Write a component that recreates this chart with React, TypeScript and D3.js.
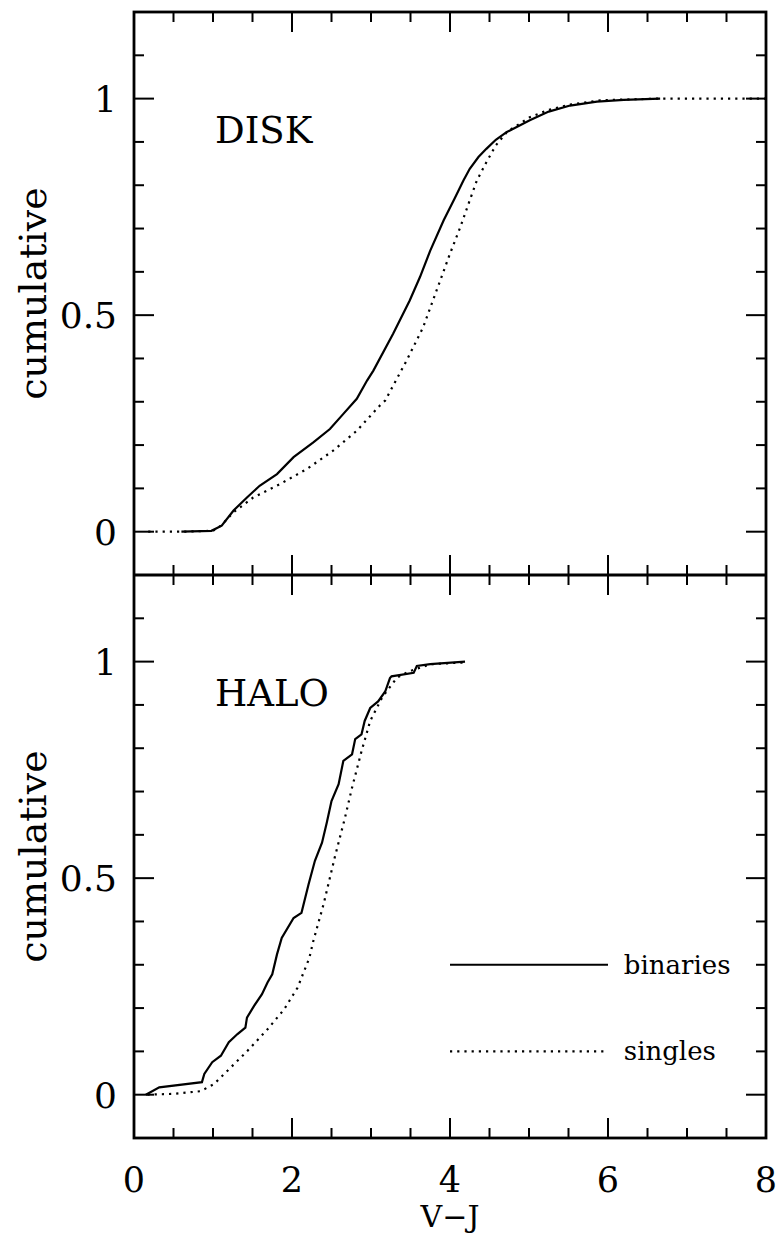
import React from "react";
import * as d3 from "d3";

// ---- data ----
const diskBinX = [0.6, 0.98, 1.11, 1.26, 1.43, 1.59, 1.81, 2.02, 2.27, 2.48, 2.65, 2.82, 2.95, 3.03, 3.28, 3.49, 3.62, 3.75, 3.92, 4.06, 4.17, 4.25, 4.36, 4.46, 4.58, 4.72, 5.01, 5.25, 5.52, 5.86, 6.2, 6.66];
const diskBinY = [0.0, 0.002, 0.014, 0.049, 0.079, 0.106, 0.133, 0.172, 0.206, 0.237, 0.272, 0.307, 0.349, 0.372, 0.457, 0.534, 0.588, 0.649, 0.719, 0.77, 0.811, 0.838, 0.865, 0.884, 0.905, 0.923, 0.95, 0.97, 0.984, 0.993, 0.997, 1.0];

const diskSinX = [0.18, 0.6, 1.0, 1.1, 1.26, 1.51, 1.85, 2.19, 2.52, 2.82, 3.11, 3.18, 3.45, 3.66, 3.83, 4.0, 4.13, 4.24, 4.34, 4.46, 4.58, 4.72, 5.01, 5.25, 5.52, 5.9, 6.6, 8.0];
const diskSinY = [0.0, 0.0, 0.002, 0.014, 0.045, 0.079, 0.11, 0.145, 0.187, 0.233, 0.291, 0.303, 0.395, 0.472, 0.557, 0.642, 0.703, 0.76, 0.811, 0.853, 0.892, 0.923, 0.957, 0.974, 0.986, 0.996, 1.0, 1.0];

const haloBinX = [0.15, 0.32, 0.86, 0.89, 0.99, 1.1, 1.2, 1.31, 1.41, 1.43, 1.52, 1.62, 1.69, 1.75, 1.81, 1.87, 2.02, 2.12, 2.21, 2.29, 2.38, 2.44, 2.5, 2.59, 2.65, 2.76, 2.8, 2.88, 2.92, 2.99, 3.09, 3.18, 3.24, 3.26, 3.54, 3.58, 3.75, 4.19];
const haloBinY = [0.0, 0.017, 0.029, 0.048, 0.075, 0.09, 0.121, 0.14, 0.155, 0.178, 0.205, 0.232, 0.259, 0.278, 0.324, 0.362, 0.408, 0.42, 0.486, 0.54, 0.582, 0.628, 0.678, 0.717, 0.771, 0.786, 0.821, 0.832, 0.863, 0.893, 0.908, 0.931, 0.962, 0.966, 0.974, 0.99, 0.994, 1.0];

const haloSinX = [0.17, 0.51, 0.84, 1.01, 1.22, 1.43, 1.69, 1.9, 2.07, 2.22, 2.27, 2.4, 2.54, 2.67, 2.76, 2.88, 2.99, 3.14, 3.33, 3.49, 3.75, 4.17];
const haloSinY = [0.0, 0.002, 0.008, 0.024, 0.062, 0.1, 0.151, 0.197, 0.247, 0.316, 0.355, 0.44, 0.547, 0.639, 0.709, 0.793, 0.863, 0.917, 0.963, 0.978, 0.994, 0.998];

const xTickLabels = ["0", "2", "4", "6", "8"];
const yTickLabels = ["0", "0.5", "1"];
const panelNames = ["DISK", "HALO"];
const legendNames = ["binaries", "singles"];
const legendYs = [0.3, 0.1];

// ---- layout ----
const W = 778;
const H = 1236;
const left = 134;
const right = 766;
const top1 = 12;
const mid = 575;
const bottom = 1138;
const FONT = "'DejaVu Serif', serif";

const x = d3.scaleLinear().domain([0, 8]).range([left, right]);
const yTop = d3.scaleLinear().domain([-0.1, 1.2]).range([mid, top1]);
const yBot = d3.scaleLinear().domain([-0.1, 1.2]).range([bottom, mid]);

function pts(xs: number[], ys: number[]): [number, number][] {
  return xs.map((v, i) => [v, ys[i]]);
}

function Panel({ y, y0, y1, name, bin, sin, legend }: any) {
  const line = d3
    .line<[number, number]>()
    .x((d) => x(d[0]))
    .y((d) => y(d[1]));
  const xMinor = d3.range(0, 8.001, 0.5);
  const yMinor = d3.range(0, 11.5, 1).map((v) => v / 10);
  const ticks: any[] = [];
  xMinor.forEach((v, i) => {
    const major = Math.abs(v % 2) < 1e-6;
    const len = major ? 20 : 10;
    if (v > 0 && v < 8) {
      ticks.push(<line key={"xt" + i} x1={x(v)} x2={x(v)} y1={y0} y2={y0 + len} />);
      ticks.push(<line key={"xb" + i} x1={x(v)} x2={x(v)} y1={y1} y2={y1 - len} />);
    }
  });
  yMinor.forEach((v, i) => {
    const major = Math.abs((v * 10) % 5) < 1e-6;
    const len = major ? 20 : 10;
    ticks.push(<line key={"yl" + i} x1={left} x2={left + len} y1={y(v)} y2={y(v)} />);
    ticks.push(<line key={"yr" + i} x1={right} x2={right - len} y1={y(v)} y2={y(v)} />);
  });
  const yVals = [0, 0.5, 1];
  return (
    <g>
      <g stroke="#000" strokeWidth={2}>{ticks}</g>
      {yVals.map((v, i) => (
        <text key={"yl" + i} x={117} y={y(v) + 13} textAnchor="end" fontFamily={FONT} fontSize={36}>
          {yTickLabels[i]}
        </text>
      ))}
      <text
        transform={`translate(46,${(y0 + y1) / 2}) rotate(-90)`}
        textAnchor="middle"
        fontFamily={FONT}
        fontSize={38}
      >
        cumulative
      </text>
      <text x={215} y={y(0.9) + 1} fontFamily={FONT} fontSize={37}>
        {name}
      </text>
      <path d={line(sin) || ""} fill="none" stroke="#000" strokeWidth={2.2} strokeDasharray="2.2 5" />
      <path d={line(bin) || ""} fill="none" stroke="#000" strokeWidth={2.2} />
      {legend && (
        <g>
          <line x1={x(4)} x2={x(6)} y1={y(legendYs[0])} y2={y(legendYs[0])} stroke="#000" strokeWidth={2.2} />
          <text x={x(6.2)} y={y(legendYs[0]) + 9} fontFamily={FONT} fontSize={26}>
            {legendNames[0]}
          </text>
          <line
            x1={x(4)}
            x2={x(6)}
            y1={y(legendYs[1])}
            y2={y(legendYs[1])}
            stroke="#000"
            strokeWidth={2.2}
            strokeDasharray="2.2 5"
          />
          <text x={x(6.2)} y={y(legendYs[1]) + 9} fontFamily={FONT} fontSize={26}>
            {legendNames[1]}
          </text>
        </g>
      )}
    </g>
  );
}

export default function App() {
  const xVals = [0, 2, 4, 6, 8];
  return (
    <svg width={W} height={H} style={{ position: "absolute", left: 0, top: 0, background: "#fff" }}>
      <rect x={0} y={0} width={W} height={H} fill="#fff" />
      <Panel y={yTop} y0={top1} y1={mid} name={panelNames[0]} bin={pts(diskBinX, diskBinY)} sin={pts(diskSinX, diskSinY)} legend={false} />
      <Panel y={yBot} y0={mid} y1={bottom} name={panelNames[1]} bin={pts(haloBinX, haloBinY)} sin={pts(haloSinX, haloSinY)} legend={true} />
      <rect x={left} y={top1} width={right - left} height={bottom - top1} fill="none" stroke="#000" strokeWidth={2.8} />
      <line x1={left} x2={right} y1={mid} y2={mid} stroke="#000" strokeWidth={2.8} />
      {xVals.map((v, i) => (
        <text key={i} x={x(v)} y={1192} textAnchor="middle" fontFamily={FONT} fontSize={35}>
          {xTickLabels[i]}
        </text>
      ))}
      <text x={x(4)} y={1227} textAnchor="middle" fontFamily={FONT} fontSize={30}>
        V−J
      </text>
    </svg>
  );
}
